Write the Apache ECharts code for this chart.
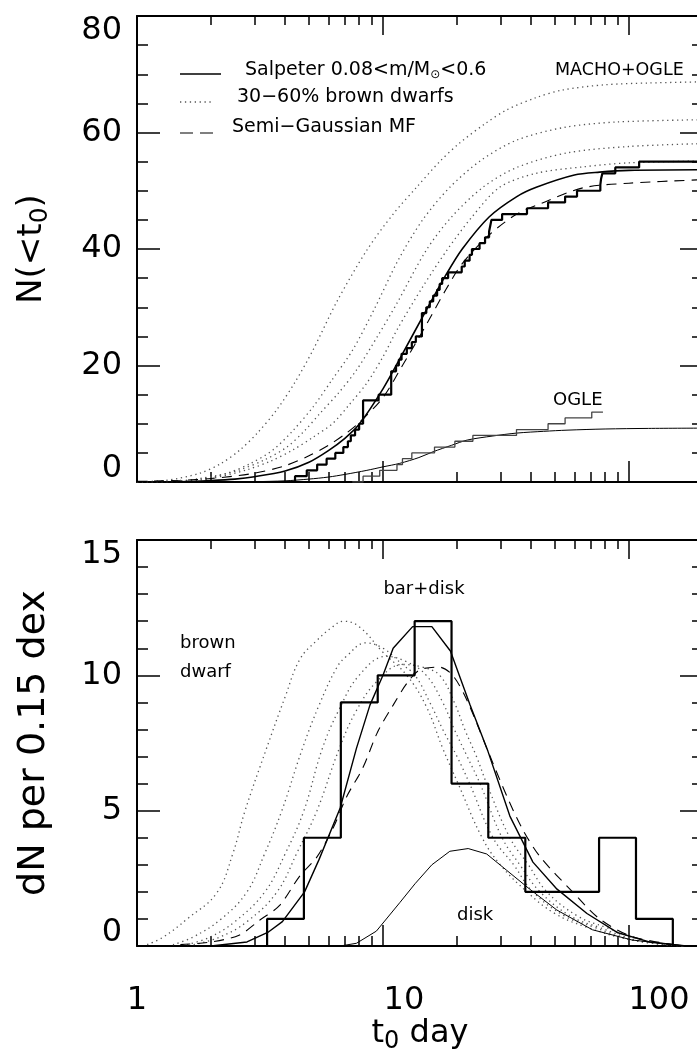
<!DOCTYPE html>
<html><head><meta charset="utf-8">
<script src="https://cdn.jsdelivr.net/npm/echarts@6/dist/echarts.min.js"></script>
<style>html,body{margin:0;padding:0;background:#fff}#c{width:697px;height:1061px}</style>
</head><body><div id="c"></div>
<script>
// ---------- tick values ----------
const xMajorTicks = [1, 10, 100];
const xMinorTicks = [2, 3, 4, 5, 6, 7, 8, 9, 20, 30, 40, 50, 60, 70, 80, 90];
const xRange = [1, 200];
const topYRange = [0, 80];
const topYStep = 20;
const botYRange = [0, 15];
const botYStep = 5;

// ---------- top panel: cumulative N(<t0) ----------
const salpCumT = [1, 1.5, 2, 2.5, 3, 4, 5, 6, 7, 8, 10, 12, 15, 18, 21, 27, 35, 42, 60, 76, 100, 200];
const salpCumN = [0, 0.05, 0.25, 0.5, 0.9, 1.9, 3.4, 5.4, 7.5, 9.9, 16, 22, 29.5, 35.5, 40, 45.5, 49, 50.6, 52.7, 53.2, 53.5, 53.6];
const semiCumT = [1, 1.5, 2, 3, 4, 5, 6, 7, 8, 10, 12, 15, 18, 21, 27, 35, 45, 65, 100, 200];
const semiCumN = [0.1, 0.3, 0.6, 1.5, 2.8, 4.5, 6.3, 8.2, 10.2, 14.5, 20, 27, 33, 37.5, 42.4, 46, 48, 50.5, 51.3, 51.9];
const bd1CumT = [1, 1.32, 1.8, 2.2, 2.62, 3.1, 3.7, 4.4, 5.2, 6.5, 8.6, 11, 13.7, 17, 20.5, 26, 31.9, 42, 53.9, 80, 121, 200];
const bd1CumN = [0.05, 0.3, 1.5, 3.2, 5.5, 8.5, 12.4, 17.2, 22.7, 31, 39.8, 46, 50.6, 55, 58.2, 61.5, 63.9, 66, 67.3, 68.2, 68.5, 68.7];
const bd2CumT = [1, 1.5, 1.8, 2.32, 2.9, 3.57, 4.3, 5.2, 6.2, 7.54, 9.3, 11.5, 14.5, 18.7, 25, 35, 55, 89, 200];
const bd2CumN = [0, 0.2, 0.6, 1.5, 3.2, 5.5, 8.8, 12.9, 17.5, 22.7, 30, 38, 45, 50.6, 55.2, 58.7, 60.9, 61.8, 62.2];
const bd3CumT = [1, 1.5, 2, 2.62, 3.3, 4.07, 4.8, 5.55, 6.6, 7.8, 9.5, 11.4, 15, 19, 25.5, 35, 56, 100, 200];
const bd3CumN = [0, 0.15, 0.8, 2.1, 3.8, 6.0, 8.8, 11.8, 15.3, 19.2, 25, 30.7, 39.8, 45.5, 50.6, 54, 56.5, 57.6, 58.1];
const bd4CumT = [1, 1.5, 2, 2.8, 3.5, 4.3, 5.2, 6.26, 7.3, 8.6, 10, 11.5, 14.5, 18.2, 23, 29.8, 42, 65, 100, 200];
const bd4CumN = [0, 0.1, 0.6, 2.1, 3.6, 5.5, 7.7, 10.1, 13.3, 17, 21.5, 26.4, 33.5, 39.8, 45.5, 50.6, 53, 54.1, 54.8, 55.1];
const ogleCurveT = [2.5, 3, 4, 5, 6, 7, 8.6, 10, 11.7, 14, 16, 19, 22, 28, 35, 45, 56, 80, 120, 200];
const ogleCurveN = [0, 0.05, 0.2, 0.5, 0.85, 1.3, 2.0, 2.6, 3.2, 4.2, 5.2, 6.3, 7.2, 7.9, 8.4, 8.7, 8.9, 9.1, 9.2, 9.25];
// observed event time scales (days)
const machoOgleEvents = [4.39, 4.9, 5.4, 5.9, 6.4, 6.9, 7.2, 7.4, 7.7, 8.0, 8.3, 8.3, 8.3, 8.3, 9.6, 10.8, 10.8, 10.8, 10.8, 11.3, 11.6, 11.9, 12.5, 13.1, 13.6, 14.4, 14.4, 14.4, 14.4, 15.0, 15.5, 16.0, 16.6, 17.0, 17.4, 18.4, 20.9, 21.5, 22.5, 23.0, 24.7, 26.0, 27.0, 27.3, 27.6, 30.5, 38.5, 46.9, 55, 61.5, 76.5, 77, 78, 88, 110];
const machoOgleSpan = [3.0, 200];
const ogleEvents = [8.3, 9.7, 11.4, 12.0, 13.1, 16.2, 19.6, 23.2, 34.9, 46.9, 55, 70.6];
const ogleSpan = [7.5, 78.4];

// ---------- bottom panel: dN per 0.15 dex ----------
const histEdges = [3.38, 4.77, 6.74, 9.52, 13.45, 19.0, 26.8, 37.9, 53.5, 75.6, 106.8, 150.8];
const histCounts = [1, 4, 9, 10, 12, 6, 4, 2, 2, 4, 1];
const salpDiffT = [2, 2.8, 3.4, 3.9, 4.8, 5.5, 6.7, 7.8, 8.85, 10, 11, 13.2, 15.8, 18.8, 22.6, 26.7, 32.8, 40.7, 51, 67.5, 89.5, 121, 171];
const salpDiffV = [0, 0.15, 0.5, 0.9, 2.0, 3.2, 5.1, 7.3, 8.9, 10, 11, 11.8, 11.8, 10.9, 8.9, 7.2, 4.8, 3.1, 2.1, 1.2, 0.5, 0.15, 0];
const semiDiffT = [1.5, 2, 2.6, 3.16, 3.8, 4.6, 5.4, 6.3, 7.1, 8.3, 9.5, 11, 12.5, 14.1, 17.0, 19.2, 21.9, 27, 32, 37, 43.5, 59, 76, 103, 166];
const semiDiffV = [0.05, 0.15, 0.4, 0.96, 1.5, 2.6, 3.3, 4.4, 5.5, 6.6, 7.9, 8.9, 9.7, 10.2, 10.3, 10.0, 9.1, 7.1, 5.5, 4.3, 3.3, 2.0, 1.0, 0.35, 0];
const bd1DiffT = [1.1, 1.28, 1.6, 2.11, 2.45, 2.75, 3.35, 4.0, 4.6, 5.4, 6.26, 6.9, 8, 10, 12.5, 15, 17.5, 20.2, 25.3, 30, 38.5, 50, 67, 103, 170];
const bd1DiffV = [0.05, 0.33, 1.0, 1.96, 3.4, 5.0, 7.26, 9.2, 10.6, 11.3, 11.8, 12.0, 11.8, 10.85, 10.0, 8.85, 7.3, 6.0, 4.0, 3.0, 2.0, 1.2, 0.7, 0.22, 0];
const bd2DiffT = [1.4, 1.69, 2.2, 2.8, 3.3, 3.88, 4.69, 5.5, 6.5, 7.1, 8.5, 10, 12, 13.5, 15.5, 17.5, 20, 22.5, 28, 34, 40.7, 55, 72, 105, 170];
const bd2DiffV = [0.05, 0.33, 1.0, 2.0, 3.4, 5.0, 7.26, 8.9, 10.3, 10.7, 11.2, 11.0, 10.4, 10.0, 9.0, 8.0, 7.0, 6.0, 4.0, 3.0, 2.0, 1.1, 0.7, 0.2, 0];
const bd3DiffT = [1.6, 1.98, 2.5, 3.31, 4.0, 4.77, 5.65, 6.6, 8, 10.3, 12.5, 15, 17.5, 19.5, 22, 24.8, 30.5, 36, 43.5, 58, 75, 110, 170];
const bd3DiffV = [0.05, 0.33, 0.9, 2.0, 3.4, 5.0, 7.26, 8.7, 10.0, 10.7, 10.5, 10.0, 9.0, 8.0, 7.0, 6.0, 4.0, 3.0, 2.0, 1.1, 0.7, 0.2, 0];
const bd4DiffT = [1.7, 2.17, 2.8, 3.71, 4.5, 5.39, 6.62, 7.8, 9.5, 12, 14.5, 17, 19.5, 21.5, 24, 26.4, 32.8, 39, 46.4, 62, 80, 115, 170];
const bd4DiffV = [0.05, 0.33, 0.9, 2.0, 3.5, 5.0, 7.26, 8.7, 9.8, 10.4, 10.3, 10.0, 9.0, 8.0, 7.0, 6.0, 4.0, 3.0, 2.0, 1.1, 0.7, 0.2, 0];
const diskT = [6.7, 7.8, 9.4, 11.7, 13.5, 15.8, 18.7, 22.2, 26.4, 31.8, 39.5, 50.9, 71, 103, 171];
const diskV = [0, 0.1, 0.55, 1.6, 2.3, 3.0, 3.5, 3.6, 3.4, 2.8, 2.1, 1.33, 0.6, 0.22, 0];

// ---------- helpers ----------
const FONT = 'DejaVu Sans';
const pairs = (t, v) => t.map((x, i) => [x, v[i]]);
function cumSteps(events, span) {
  const ev = events.slice().sort((a, b) => a - b);
  const pts = [[span[0], 0]]; let n = 0;
  ev.forEach(t => { pts.push([t, n]); n++; pts.push([t, n]); });
  pts.push([span[1], n]);
  return pts;
}
function histOutline(edges, counts) {
  const pts = [[edges[0], 0]];
  counts.forEach((c, i) => { pts.push([edges[i], c]); pts.push([edges[i + 1], c]); });
  pts.push([edges[edges.length - 1], 0]);
  return pts;
}
const AXC = '#000';
function xAxesFor(g, withLabels) {
  const base = { type: 'log', logBase: 10, min: xRange[0], max: xRange[1], gridIndex: g,
    splitLine: { show: false }, minorSplitLine: { show: false } };
  const main = Object.assign({}, base, {
    position: 'bottom',
    axisLine: { show: true, onZero: false, lineStyle: { color: AXC, width: 2 } },
    axisTick: { show: true, inside: true, length: 21, customValues: xMajorTicks, lineStyle: { color: AXC, width: 1.5 } },
    axisLabel: withLabels ? { show: true, customValues: xMajorTicks, margin: 39, color: '#000', fontFamily: FONT, fontSize: 32,
      formatter: v => v >= 100 ? '{c|' + v + '}' : (v >= 10 ? '{b|' + v + '}' : String(v)),
      rich: { b: { fontFamily: FONT, fontSize: 32, color: '#000', padding: [0, 0, 0, 42] },
              c: { fontFamily: FONT, fontSize: 32, color: '#000', padding: [0, 0, 0, 60] } } } : { show: false }
  });
  if (withLabels) {
    Object.assign(main, { name: 't{s|0} day', nameLocation: 'middle', nameGap: 66,
      nameTextStyle: { color: '#000', fontFamily: FONT, fontSize: 32,
        rich: { s: { fontFamily: FONT, fontSize: 24, color: '#000', padding: [16, 0, 0, 0] } } } });
  }
  const minor = Object.assign({}, base, {
    position: 'bottom', axisLine: { show: false, onZero: false },
    axisTick: { show: true, inside: true, length: 10, customValues: xMinorTicks, lineStyle: { color: AXC, width: 1.5 } },
    axisLabel: { show: false }
  });
  const topMain = Object.assign({}, base, {
    position: 'top',
    axisLine: { show: true, onZero: false, lineStyle: { color: AXC, width: 2 } },
    axisTick: { show: true, inside: true, length: 19, customValues: xMajorTicks, lineStyle: { color: AXC, width: 1.5 } },
    axisLabel: { show: false }
  });
  const topMinor = Object.assign({}, base, {
    position: 'top', axisLine: { show: false, onZero: false },
    axisTick: { show: true, inside: true, length: 9, customValues: xMinorTicks, lineStyle: { color: AXC, width: 1.5 } },
    axisLabel: { show: false }
  });
  return [main, minor, topMain, topMinor];
}
function yAxesFor(g, range, step, minorSplit, name, nameSize, rich) {
  const common = { type: 'value', gridIndex: g, min: range[0], max: range[1], interval: step,
    splitLine: { show: false }, minorSplitLine: { show: false },
    axisLine: { show: true, onZero: false, lineStyle: { color: AXC, width: 2 } },
    axisTick: { show: true, inside: true, length: 23, lineStyle: { color: AXC, width: 1.5 } },
    minorTick: { show: true, splitNumber: minorSplit, length: 11, lineStyle: { color: AXC, width: 1.5 } } };
  const left = Object.assign({}, common, {
    position: 'left',
    axisLabel: { show: true, margin: 15, color: '#000', fontFamily: FONT, fontSize: 32,
      formatter: v => v === range[1] ? '{t|' + v + '}' : (v === range[0] ? '{b|' + v + '}' : String(v)),
      rich: { t: { fontFamily: FONT, fontSize: 32, color: '#000', padding: [30, 0, 0, 0] },
              b: { fontFamily: FONT, fontSize: 32, color: '#000', padding: [0, 0, 26, 0] } } },
    name: name, nameLocation: 'middle', nameGap: 84,
    nameTextStyle: { color: '#000', fontFamily: FONT, fontSize: nameSize, rich: rich }
  });
  const right = Object.assign({}, common, { position: 'right', axisLabel: { show: false } });
  return [left, right];
}

const subRich = { s: { fontFamily: FONT, fontSize: 25, color: '#000', padding: [17, 0, 0, 0] } };

const xAxis = xAxesFor(0, false).concat(xAxesFor(1, true));
const yAxis = yAxesFor(0, topYRange, topYStep, 4, 'N(<t{s|0})', 34, subRich)
  .concat(yAxesFor(1, botYRange, botYStep, 5, 'dN per 0.15 dex', 38, {}));

function line(data, xi, yi, style) {
  return Object.assign({ type: 'line', data: data, xAxisIndex: xi, yAxisIndex: yi,
    showSymbol: false, symbol: 'none', silent: true, animation: false, z: 3 }, style);
}
const DOT = { color: '#555', width: 1.3, type: [1.3, 3.6] };
const DASH = { color: '#000', width: 1.1, type: [10, 7] };

const series = [
  // top panel
  line(pairs(bd1CumT, bd1CumN), 0, 0, { smooth: 0.3, lineStyle: DOT }),
  line(pairs(bd2CumT, bd2CumN), 0, 0, { smooth: 0.3, lineStyle: DOT }),
  line(pairs(bd3CumT, bd3CumN), 0, 0, { smooth: 0.3, lineStyle: DOT }),
  line(pairs(bd4CumT, bd4CumN), 0, 0, { smooth: 0.3, lineStyle: DOT }),
  line(pairs(semiCumT, semiCumN), 0, 0, { smooth: 0.3, lineStyle: DASH }),
  line(pairs(salpCumT, salpCumN), 0, 0, { smooth: 0.3, lineStyle: { color: '#000', width: 1.6 } }),
  line(pairs(ogleCurveT, ogleCurveN), 0, 0, { smooth: 0.3, lineStyle: { color: '#000', width: 1 } }),
  line(cumSteps(ogleEvents, ogleSpan), 0, 0, { lineStyle: { color: '#444', width: 1.3 } }),
  line(cumSteps(machoOgleEvents, machoOgleSpan), 0, 0, { lineStyle: { color: '#000', width: 2.2 } }),
  // bottom panel
  line(pairs(bd1DiffT, bd1DiffV), 4, 2, { smooth: 0.4, lineStyle: DOT }),
  line(pairs(bd2DiffT, bd2DiffV), 4, 2, { smooth: 0.4, lineStyle: DOT }),
  line(pairs(bd3DiffT, bd3DiffV), 4, 2, { smooth: 0.4, lineStyle: DOT }),
  line(pairs(bd4DiffT, bd4DiffV), 4, 2, { smooth: 0.4, lineStyle: DOT }),
  line(pairs(semiDiffT, semiDiffV), 4, 2, { smooth: 0.3, lineStyle: DASH }),
  line(pairs(salpDiffT, salpDiffV), 4, 2, { lineStyle: { color: '#000', width: 1.4 } }),
  line(pairs(diskT, diskV), 4, 2, { lineStyle: { color: '#000', width: 1 } }),
  line(histOutline(histEdges, histCounts), 4, 2, { lineStyle: { color: '#000', width: 2.2 } })
];

const txt = (text, x, y, size, align, rich) => ({ type: 'text', x: x, y: y, silent: true, z: 10,
  style: { text: text, fill: '#000', fontFamily: FONT, fontSize: size,
    textAlign: align || 'left', textVerticalAlign: 'middle', rich: rich } });
const seg = (x1, x2, y, style) => ({ type: 'line', silent: true, z: 10,
  shape: { x1: x1, y1: y, x2: x2, y2: y }, style: Object.assign({ stroke: '#000', lineWidth: 1.4 }, style) });

const graphic = [
  seg(180, 221, 74, {}),
  seg(180, 214, 102, { stroke: '#555', lineWidth: 1.3, lineDash: [1.3, 3.6] }),
  seg(180, 214, 133, { lineWidth: 1.1, lineDash: [13, 7] }),
  txt('Salpeter 0.08<m/M{s|⊙}<0.6', 245, 70, 19, 'left',
      { s: { fontFamily: FONT, fontSize: 12, fill: '#000', padding: [10, 0, 0, 0] } }),
  txt('30−60% brown dwarfs', 237, 97, 19),
  txt('Semi−Gaussian MF', 232, 127, 19),
  txt('MACHO+OGLE', 555, 70, 17.5),
  txt('OGLE', 553, 400, 18),
  txt('bar+disk', 424, 589, 18, 'center'),
  txt('brown', 180, 643, 18),
  txt('dwarf', 180, 672, 18),
  txt('disk', 457, 915, 18)
];

const chart = echarts.init(document.getElementById('c'), null, { renderer: 'canvas' });
chart.setOption({
  animation: false,
  backgroundColor: '#fff',
  grid: [
    { left: 137, top: 16, width: 566, height: 466, containLabel: false, outerBoundsMode: 'none' },
    { left: 137, top: 540, width: 566, height: 406, containLabel: false, outerBoundsMode: 'none' }
  ],
  xAxis: xAxis,
  yAxis: yAxis,
  series: series,
  graphic: graphic
});
</script></body></html>
